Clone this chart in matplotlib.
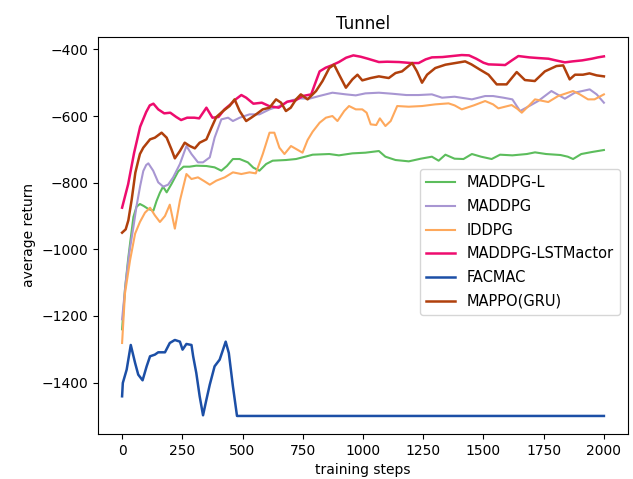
import matplotlib
matplotlib.use("Agg")
import matplotlib.pyplot as plt

# ---- data ----
lstm_steps = [0, 25, 50, 75, 100, 115, 130, 150, 175, 200, 225, 245, 270, 300, 320, 350, 375, 400, 425, 450, 475, 495, 515, 545, 580, 610, 650, 685, 720, 750, 785, 800, 820, 845, 870, 900, 930, 960, 990, 1020, 1066, 1100, 1150, 1200, 1231, 1260, 1286, 1330, 1370, 1410, 1440, 1470, 1500, 1521, 1560, 1590, 1620, 1645, 1690, 1727, 1770, 1800, 1838, 1870, 1910, 1950, 1975, 2000]
lstm_vals = [-875, -805, -710, -632, -588, -568, -563, -580, -592, -590, -603, -612, -605, -605, -607, -575, -605, -603, -580, -565, -548, -537, -545, -563, -560, -570, -575, -557, -553, -540, -535, -505, -466, -455, -448, -438, -425, -418, -422, -428, -438, -437, -438, -441, -441, -430, -424, -423, -420, -417, -418, -428, -440, -445, -446, -447, -432, -420, -424, -426, -428, -433, -439, -436, -433, -428, -424, -421]

mappo_steps = [0, 15, 26, 40, 55, 67, 74, 88, 116, 136, 164, 185, 205, 219, 240, 260, 281, 302, 322, 350, 371, 391, 419, 446, 467, 488, 515, 536, 556, 584, 612, 639, 660, 680, 700, 722, 742, 770, 805, 832, 850, 860, 880, 901, 929, 956, 977, 997, 1032, 1066, 1107, 1135, 1162, 1204, 1224, 1245, 1266, 1300, 1342, 1383, 1424, 1450, 1486, 1521, 1555, 1596, 1638, 1672, 1713, 1755, 1803, 1831, 1858, 1880, 1913, 1940, 1970, 2000]
mappo_vals = [-950, -940, -913, -850, -770, -734, -714, -695, -670, -665, -650, -665, -700, -727, -705, -680, -690, -697, -680, -670, -635, -603, -585, -570, -550, -585, -615, -605, -595, -580, -575, -550, -560, -585, -575, -550, -535, -550, -525, -495, -470, -456, -446, -476, -515, -490, -476, -493, -486, -481, -486, -471, -466, -441, -466, -500, -476, -456, -446, -441, -436, -445, -461, -476, -505, -505, -468, -492, -495, -466, -450, -448, -490, -476, -476, -472, -478, -481]

maddpg_steps = [0, 15, 30, 47, 60, 75, 88, 100, 109, 129, 150, 171, 191, 212, 240, 267, 288, 315, 336, 364, 384, 412, 440, 460, 488, 529, 570, 612, 653, 694, 736, 777, 818, 873, 929, 970, 1010, 1066, 1120, 1180, 1231, 1286, 1328, 1380, 1452, 1507, 1540, 1583, 1620, 1652, 1690, 1727, 1782, 1838, 1879, 1941, 1970, 2000]
maddpg_vals = [-1210, -1100, -1010, -933, -870, -810, -765, -747, -742, -764, -799, -812, -806, -784, -744, -690, -714, -739, -739, -724, -665, -610, -605, -615, -605, -595, -595, -580, -570, -555, -547, -548, -540, -530, -535, -538, -532, -530, -533, -537, -537, -535, -545, -542, -550, -540, -540, -545, -550, -585, -570, -555, -525, -548, -530, -520, -535, -560]

iddpg_steps = [0, 12, 33, 54, 74, 95, 116, 136, 157, 178, 198, 219, 240, 267, 288, 315, 340, 364, 391, 426, 460, 495, 529, 555, 584, 612, 632, 653, 674, 701, 725, 749, 770, 791, 820, 846, 873, 894, 922, 942, 970, 997, 1015, 1032, 1055, 1070, 1093, 1115, 1142, 1190, 1245, 1300, 1355, 1380, 1410, 1460, 1507, 1540, 1562, 1617, 1640, 1659, 1690, 1714, 1769, 1810, 1872, 1900, 1934, 1961, 2000]
iddpg_vals = [-1281, -1132, -1033, -953, -918, -890, -875, -898, -918, -900, -866, -938, -854, -774, -789, -784, -795, -806, -794, -784, -769, -774, -769, -772, -714, -650, -650, -695, -714, -690, -700, -710, -672, -647, -620, -605, -600, -615, -585, -570, -580, -580, -590, -625, -627, -607, -630, -615, -570, -572, -570, -565, -562, -568, -580, -568, -555, -565, -577, -567, -578, -590, -568, -550, -558, -540, -525, -535, -550, -550, -535]

maddpgl_steps = [0, 12, 25, 33, 47, 60, 74, 90, 109, 130, 143, 157, 170, 185, 205, 233, 255, 280, 308, 350, 384, 412, 435, 460, 488, 522, 545, 570, 598, 625, 680, 722, 760, 791, 860, 900, 956, 1010, 1066, 1093, 1135, 1190, 1240, 1286, 1314, 1342, 1380, 1417, 1452, 1490, 1534, 1569, 1620, 1680, 1714, 1760, 1820, 1850, 1872, 1906, 1950, 2000]
maddpgl_vals = [-1240, -1120, -1030, -983, -903, -872, -864, -870, -879, -884, -855, -830, -812, -829, -804, -766, -752, -752, -749, -750, -754, -764, -750, -729, -729, -739, -755, -764, -744, -734, -732, -729, -722, -716, -714, -718, -712, -710, -705, -722, -732, -736, -728, -722, -734, -716, -728, -729, -714, -722, -729, -716, -718, -714, -709, -714, -717, -722, -729, -714, -708, -702]

facmac_steps = [0, 3, 19, 36, 54, 67, 85, 102, 116, 136, 150, 178, 198, 219, 240, 251, 267, 288, 295, 308, 322, 336, 350, 364, 384, 405, 419, 430, 443, 460, 477, 2000]
facmac_vals = [-1441, -1401, -1361, -1287, -1341, -1376, -1393, -1351, -1321, -1316, -1309, -1309, -1281, -1272, -1277, -1301, -1284, -1287, -1321, -1371, -1441, -1498, -1451, -1406, -1351, -1331, -1301, -1277, -1311, -1411, -1500, -1500]

labels = ["MADDPG-L", "MADDPG", "IDDPG", "MADDPG-LSTMactor", "FACMAC", "MAPPO(GRU)"]
colors = ["#5cbd5c", "#a896d2", "#fea85c", "#ee0c6e", "#1c4fa6", "#b0400c"]
xticks = [0, 250, 500, 750, 1000, 1250, 1500, 1750, 2000]
yticks = [-1400, -1200, -1000, -800, -600, -400]

fig = plt.figure(figsize=(6.33, 4.79), dpi=100)
ax = fig.add_axes([98 / 633, 1 - 434 / 479, 530 / 633, 397 / 479])

series = [
    (maddpgl_steps, maddpgl_vals, 1.5),
    (maddpg_steps, maddpg_vals, 1.5),
    (iddpg_steps, iddpg_vals, 1.5),
    (lstm_steps, lstm_vals, 1.8),
    (facmac_steps, facmac_vals, 1.8),
    (mappo_steps, mappo_vals, 1.8),
]
for (xs, ys, lw), lab, col in zip(series, labels, colors):
    ax.plot(xs, ys, color=col, lw=lw, label=lab)

ax.set_xticks(xticks)
ax.set_yticks(yticks)
ax.tick_params(labelsize=10)
ax.set_title("Tunnel", fontsize=12)
ax.set_xlabel("training steps", fontsize=10)
ax.set_ylabel("average return", fontsize=10)
ax.legend(loc="upper left", bbox_to_anchor=(0.594, 0.685), fontsize=10.5,
          labelspacing=0.6)

fig.savefig("out.png", dpi=100)
